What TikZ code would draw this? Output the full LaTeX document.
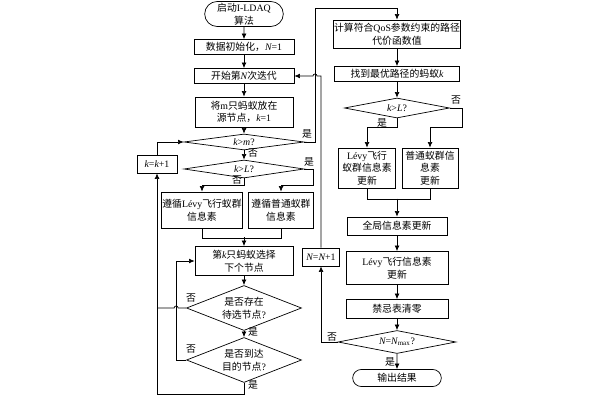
\documentclass[tikz,border=0pt]{standalone}
\usepackage{fontspec}
\setmainfont{Liberation Serif}
\newfontfamily\cjk{Noto Sans CJK SC}
\usepackage{tikz}
\usetikzlibrary{shapes.geometric,shapes.misc,arrows.meta}
\newcommand\en[1]{{\rmfamily #1}}
\newcommand\va[1]{{\rmfamily\itshape #1}}

\begin{document}
\begin{tikzpicture}[x=0.025cm,y=-0.025cm,line width=0.5pt,
 font=\cjk\fontsize{7}{9}\selectfont,
 box/.style={draw,rectangle,align=center,inner sep=0.5pt},
 term/.style={draw,rounded rectangle,align=center,inner sep=0.5pt},
 dec/.style={draw,diamond,align=center,inner sep=0pt,aspect=#1},
 lbl/.style={inner sep=0pt},
 arr/.style={-{Latex[length=4pt,width=3.5pt]}}]

 \useasboundingbox (0,0) rectangle (600,400);

 \node[term,minimum width=2cm,minimum height=0.625cm] (start) at (244,14) {启动\en{I-LDAQ}\\算法};
 \node[box,minimum width=2.5cm,minimum height=0.375cm] (init) at (244,47) {数据初始化，\va{N}\en{=1}};
 \node[box,minimum width=2.5cm,minimum height=0.375cm] (iter) at (244,76) {开始第\va{N}次迭代};
 \node[box,minimum width=2.45cm,minimum height=0.75cm] (place) at (244,112) {将\en{m}只蚂蚁放在\\源节点，\va{k}\en{=1}};
 \node[dec=7.5,minimum width=3cm,minimum height=0.4cm] (dkm) at (244,142) {\va{k}\en{>}\va{m}\en{?}};
 \node[dec=6.6,minimum width=3cm,minimum height=0.45cm] (dkL) at (244,169) {\va{k}\en{>}\va{L}\en{?}};
 \node[box,minimum width=2cm,minimum height=0.9cm] (levyA) at (202,210) {遵循\en{Lévy}飞行蚁群\\信息素};
 \node[box,minimum width=1.625cm,minimum height=0.9cm] (antA) at (281,210) {遵循普通蚁群\\信息素};
 \node[box,minimum width=2.45cm,minimum height=0.725cm] (select) at (244,261) {第\va{k}只蚂蚁选择\\下个节点};
 \node[dec=2.55,minimum width=2.875cm,minimum height=1.125cm] (dcand) at (244,308) {是否存在\\待选节点\en{?}};
 \node[dec=2.55,minimum width=2.875cm,minimum height=1.125cm] (ddest) at (244,360) {是否到达\\目的节点\en{?}};
 \node[box,minimum width=1cm,minimum height=0.45cm] (kinc) at (157,164) {\va{k}\en{=}\va{k}\en{+1}};

 \node[box,minimum width=3.125cm,minimum height=0.7cm] (cost) at (397,34) {计算符合\en{QoS}参数约束的路径\\代价函数值};
 \node[box,minimum width=3.125cm,minimum height=0.375cm] (best) at (397,74) {找到最优路径的蚂蚁\va{k}};
 \node[dec=5.25,minimum width=2.625cm,minimum height=0.5cm] (dkL2) at (397,108) {\va{k}\en{>}\va{L}\en{?}};
 \node[box,minimum width=1.425cm,minimum height=1cm] (levyB) at (367,168) {\en{Lévy}飞行\\蚁群信息素\\更新};
 \node[box,minimum width=1.4cm,minimum height=1cm] (antB) at (430,168) {普通蚁群信\\息素\\更新};
 \node[box,minimum width=2.5cm,minimum height=0.45cm] (glob) at (397,226) {全局信息素更新};
 \node[box,minimum width=2.55cm,minimum height=0.825cm] (levyC) at (397,268) {\en{Lévy}飞行信息素\\更新};
 \node[box,minimum width=2.55cm,minimum height=0.475cm] (clear) at (397,309) {禁忌表清零};
 \node[dec=5.1,minimum width=2.95cm,minimum height=0.575cm] (dN) at (397,342) {\va{N}\en{=}\va{N}\textsubscript{\en{max}}\en{?}};
 \node[term,minimum width=2.25cm,minimum height=0.425cm] (out) at (397,378) {输出结果};
 \node[box,minimum width=0.925cm,minimum height=0.45cm] (ninc) at (321,257) {\va{N}\en{=}\va{N}\en{+1}};

 \coordinate (yA) at (313,185);
 \coordinate (top) at (315,8);
 \coordinate (nB) at (462,127);

 \draw[arr] (start) -- (init);
 \draw[arr] (init) -- (iter);
 \draw[arr] (iter) -- (place);
 \draw[arr] (place) -- (dkm);
 \draw[arr] (dkm) -- (dkL);
 \draw[arr] (dkL.south) -- ++(0,7) -| (levyA.north);
 \draw[arr] (dkL.east) -| (yA) -| (antA.north);
 \draw (levyA.south) -- ++(0,10) -| (antA.south);
 \draw[arr] (select.north) ++(0,-9) -- (select.north);
 \draw[arr] (select) -- (dcand);
 \draw[arr] (dcand) -- (ddest);
 \draw[arr] (ddest.south) -- ++(0,11) -| (kinc.south);
 \draw[arr] (kinc.north) |- (dkm.west);
 \draw (dcand.west) -- ++(-8,0) arc (0:180:0.05cm) -- (dcand.west -| kinc.south);
 \draw[arr] (ddest.west) -- ++(-10,0) |- (select.west);

 \draw[arr] (dkm.east) -| (top) -| (cost.north);
 \draw[arr] (cost) -- (best);
 \draw[arr] (best) -- (dkL2);
 \draw[arr] (dkL2.south) -- ++(0,9) -| (levyB.north);
 \draw[arr] (dkL2.east) -| (nB) -| (antB.north);
 \draw (levyB.south) -- ++(0,11) -| (antB.south);
 \draw[arr] (glob.north) ++(0,-18) -- (glob.north);
 \draw[arr] (glob) -- (levyC);
 \draw[arr] (levyC) -- (clear);
 \draw[arr] (clear) -- (dN);
 \draw[arr] (dN) -- (out);
 \draw[arr] (dN.west) -| (ninc.south);
 \draw[arr] (ninc.north) -- (ninc.north |- iter.east) -- ++(-4,0) arc (0:180:0.05cm) -- (iter.east);

 \node[lbl] (l1) at (307,134) {是};
 \node[lbl] (l2) at (253,153) {否};
 \node[lbl] (l3) at (309,162) {是};
 \node[lbl] (l4) at (237,180) {否};
 \node[lbl] (l5) at (191,298) {否};
 \node[lbl] (l6) at (253,332) {是};
 \node[lbl] (l7) at (191,349) {否};
 \node[lbl] (l8) at (253,385) {是};
 \node[lbl] (l9) at (456,100) {否};
 \node[lbl] (l10) at (382,123) {是};
 \node[lbl] (l11) at (332,337) {否};
 \node[lbl] (l12) at (390,362) {是};

\end{tikzpicture}
\end{document}
